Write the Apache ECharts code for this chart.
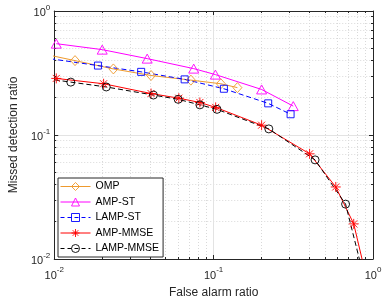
<!DOCTYPE html>
<html>
<head>
<meta charset="utf-8">
<script src="https://cdn.jsdelivr.net/npm/echarts@6/dist/echarts.min.js"></script>
<style>
html,body{margin:0;padding:0;background:#fff;}
#c{width:390px;height:304px;}
</style>
</head>
<body>
<div id="c"></div>
<script>
// ---- data ----
const seriesNames = ['OMP', 'AMP-ST', 'LAMP-ST', 'AMP-MMSE', 'LAMP-MMSE'];
const ompX = [0.0075, 0.0135, 0.0235, 0.0405, 0.072, 0.111, 0.141];
const ompY = [0.467, 0.398, 0.341, 0.302, 0.277, 0.259, 0.241];
const ampStX = [0.0103, 0.02, 0.0383, 0.075, 0.1026, 0.2, 0.316];
const ampStY = [0.545, 0.488, 0.413, 0.343, 0.307, 0.233, 0.171];
const lampStX = [0.0075, 0.0188, 0.0351, 0.0658, 0.116, 0.22, 0.304];
const lampStY = [0.43, 0.363, 0.323, 0.281, 0.236, 0.18, 0.147];
const ampMmseX = [0.0103, 0.0204, 0.0405, 0.0605, 0.082, 0.103, 0.2, 0.4, 0.584, 0.757, 0.9];
const ampMmseY = [0.286, 0.259, 0.216, 0.198, 0.183, 0.167, 0.12, 0.0705, 0.0381, 0.0192, 0.0075];
const lampMmseX = [0.008, 0.0127, 0.0212, 0.0419, 0.0599, 0.082, 0.105, 0.222, 0.433, 0.673, 0.88];
const lampMmseY = [0.29, 0.267, 0.244, 0.21, 0.194, 0.175, 0.161, 0.112, 0.063, 0.0277, 0.007];
const majorTicks = [0.01, 0.1, 1];
const minorTicks = [0.02,0.03,0.04,0.05,0.06,0.07,0.08,0.09,0.2,0.3,0.4,0.5,0.6,0.7,0.8,0.9];

const FONT = 'Liberation Sans, Arial, Helvetica, sans-serif';
const AX = '#262626';
const colors = ['#EE9A2E', '#FF00FF', '#0000FF', '#FF0000', '#000000'];

function pairs(xs, ys){ return xs.map((x,i)=>[x, ys[i]]); }
function fmt(v){ const e = Math.round(Math.log10(v)); return '{b|10}{e|' + e + '}'; }
const rich = {
  b: {fontSize: 11, fontFamily: FONT, color: AX, verticalAlign: 'bottom', lineHeight: 15},
  e: {fontSize: 8, fontFamily: FONT, color: AX, verticalAlign: 'top', lineHeight: 15, padding:[0,0,6,0]}
};

function mkAxis(dim, pos, major, extra){
  const a = {
    type: 'log', logBase: 10, min: 0.01, max: 1, position: pos,
    axisLine: {show: major, lineStyle: {color: AX, width: 1}},
    axisTick: {show: true, inside: true, length: major ? 4 : 2, customValues: major ? majorTicks : minorTicks,
               lineStyle: {color: AX, width: 1}},
    axisLabel: {show: false},
    splitLine: {show: false},
    minorTick: {show: false},
    minorSplitLine: {show: false}
  };
  return Object.assign(a, extra || {});
}

const xAxes = [
  mkAxis('x', 'bottom', true, {
    name: 'False alarm ratio', nameLocation: 'middle', nameGap: 28,
    nameTextStyle: {fontSize: 12, fontFamily: FONT, color: AX},
    axisLabel: {show: true, customValues: majorTicks, formatter: fmt, rich: rich, margin: 7},
    splitLine: {show: true, lineStyle: {color: '#e3e3e3', width: 1}}
  }),
  mkAxis('x', 'top', true),
  mkAxis('x', 'bottom', false, {splitLine: {show: true, lineStyle: {color: '#d9d9d9', width: 1, type: [1,2]}}}),
  mkAxis('x', 'top', false)
];
const yAxes = [
  mkAxis('y', 'left', true, {
    name: 'Missed detection ratio', nameLocation: 'middle', nameGap: 30,
    nameTextStyle: {fontSize: 12, fontFamily: FONT, color: AX},
    axisLabel: {show: true, customValues: majorTicks, formatter: fmt, rich: rich, margin: 4},
    splitLine: {show: true, lineStyle: {color: '#e3e3e3', width: 1}}
  }),
  mkAxis('y', 'right', true),
  mkAxis('y', 'left', false, {splitLine: {show: true, lineStyle: {color: '#d9d9d9', width: 1, type: [1,2]}}}),
  mkAxis('y', 'right', false)
];

const star = 'path://M10 0L10 20M0 10L20 10M3 3L17 17M3 17L17 3';

function mkSeries(name, xs, ys, color, symbol, size, dashed){
  return {
    name: name, type: 'line', xAxisIndex: 0, yAxisIndex: 0,
    data: pairs(xs, ys), symbol: symbol, symbolSize: size, showSymbol: true,
    clip: true, animation: false,
    lineStyle: {color: color, width: 1, type: dashed ? [5,3] : 'solid'},
    itemStyle: {color: 'rgba(255,255,255,0)', borderColor: color, borderWidth: 0.9},
    emphasis: {disabled: true}
  };
}

const series = [
  mkSeries(seriesNames[0], ompX, ompY, colors[0], 'diamond', [9,10], false),
  mkSeries(seriesNames[1], ampStX, ampStY, colors[1], 'triangle', [10,9], false),
  mkSeries(seriesNames[2], lampStX, lampStY, colors[2], 'rect', 7, true),
  mkSeries(seriesNames[3], ampMmseX, ampMmseY, colors[3], star, 10, false),
  mkSeries(seriesNames[4], lampMmseX, lampMmseY, colors[4], 'circle', 8, true)
];

const legendData = seriesNames.map((n, i) => ({
  name: n,
  itemStyle: {color: 'rgba(255,255,255,0)', borderColor: colors[i], borderWidth: 0.9},
  lineStyle: {width: 1, color: colors[i], type: (i === 2 || i === 4) ? [4,3] : 'solid'}
}));

const chart = echarts.init(document.getElementById('c'), null, {renderer: 'canvas'});
chart.setOption({
  animation: false,
  backgroundColor: '#fff',
  grid: {left: 48, right: 17, top: 11, bottom: 43, containLabel: false},
  xAxis: xAxes,
  yAxis: yAxes,
  legend: {
    data: legendData, orient: 'vertical', left: 58, top: 178,
    itemWidth: 30, itemHeight: 10, itemGap: 4.5,
    padding: [3, 4, 3, 2],
    backgroundColor: '#fff', borderColor: AX, borderWidth: 1,
    lineStyle: {width: 1},
    textStyle: {fontSize: 10.5, fontFamily: FONT, color: '#000'}
  },
  series: series
});
</script>
</body>
</html>
